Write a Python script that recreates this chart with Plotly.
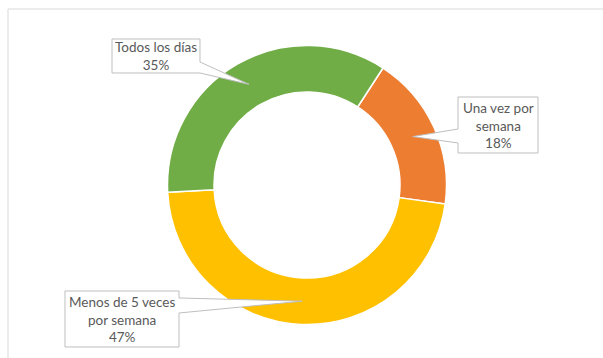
import math
import plotly.graph_objects as go

# Survey answers: how often the activity is done
categories = ["Una vez por semana", "Menos de 5 veces por semana", "Todos los días"]
values = [18, 47, 35]
label_lines = [["Una vez por", "semana"], ["Menos de 5 veces", "por semana"], ["Todos los días"]]
colors = ["#ED7D31", "#FFC000", "#70AD47"]

W, H = 603, 358
CX, CY, R_OUT, R_IN = 307, 185, 139.5, 93
ROTATION = 33  # start angle of first slice, degrees clockwise from 12 o'clock

# Callout boxes (pixel coords: x0, y0, x1, y1) and the edge the pointer leaves from
boxes = [
    dict(rect=(458, 97, 538, 153), side="left", base=(129, 143)),
    dict(rect=(65, 291, 179, 347), side="right", base=(298, 313)),
    dict(rect=(112, 39, 200, 73), side="right", base=(62, 73)),
]


def px(x):
    return x / W


def py(y):
    return 1 - y / H


fig = go.Figure(
    go.Pie(
        labels=categories,
        values=values,
        sort=False,
        direction="clockwise",
        rotation=ROTATION,
        hole=R_IN / R_OUT,
        marker=dict(colors=colors, line=dict(color="white", width=1.5)),
        textinfo="none",
        hoverinfo="label+percent",
        showlegend=False,
        domain=dict(x=[px(CX - R_OUT), px(CX + R_OUT)], y=[py(CY + R_OUT), py(CY - R_OUT)]),
    )
)

total = sum(values)
shapes = [
    # chart frame
    dict(type="rect", xref="paper", yref="paper", x0=px(8), x1=px(W + 10), y0=py(H + 10), y1=py(9),
         line=dict(color="#D9D9D9", width=1), fillcolor="rgba(0,0,0,0)", layer="below"),
]
annotations = []

start = ROTATION
for val, lines, box in zip(values, label_lines, boxes):
    span = 360 * val / total
    mid = math.radians(start + span / 2)
    start += span
    r_mid = (R_OUT + R_IN) / 2
    tx = CX + r_mid * math.sin(mid)
    ty = CY - r_mid * math.cos(mid)

    x0, y0, x1, y1 = box["rect"]
    b0, b1 = box["base"]
    if box["side"] == "right":
        pts = [(x0, y0), (x1, y0), (x1, b0), (tx, ty), (x1, b1), (x1, y1), (x0, y1)]
    else:
        pts = [(x0, y0), (x1, y0), (x1, y1), (x0, y1), (x0, b1), (tx, ty), (x0, b0)]
    path = "M " + " L ".join(f"{px(a):.5f},{py(b):.5f}" for a, b in pts) + " Z"
    shapes.append(dict(type="path", xref="paper", yref="paper", path=path,
                       fillcolor="white", line=dict(color="#BFBFBF", width=1), layer="above"))

    pct = round(100 * val / total)
    text = "<br>".join(lines + [f"{pct}%"])
    annotations.append(dict(x=px((x0 + x1) / 2), y=py((y0 + y1) / 2), xref="paper", yref="paper",
                            text=text, showarrow=False, xanchor="center", yanchor="middle",
                            align="center", font=dict(family="Lato", size=13.5, color="#595959")))

fig.update_layout(
    width=W, height=H,
    margin=dict(l=0, r=0, t=0, b=0),
    paper_bgcolor="white",
    plot_bgcolor="white",
    shapes=shapes,
    annotations=annotations,
)

fig.write_html("out.html")
